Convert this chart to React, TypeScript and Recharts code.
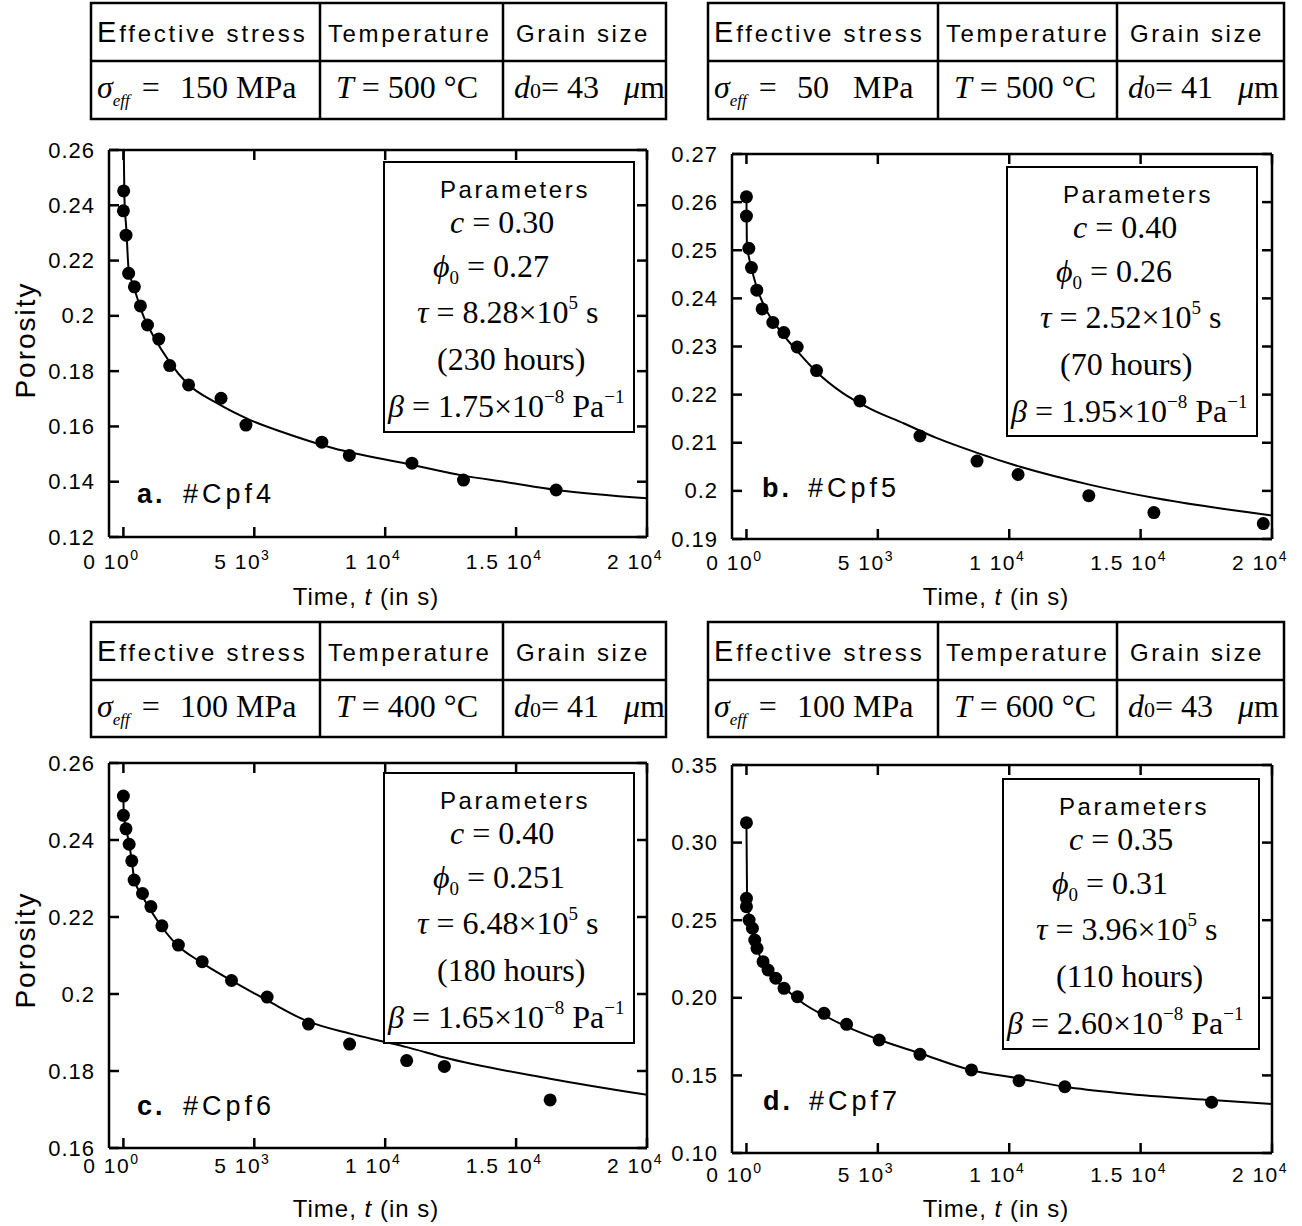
import React from "react";
import { ComposedChart, Line, Scatter, XAxis, YAxis } from "recharts";

const SANS = '"Liberation Sans", Arial, Helvetica, sans-serif';
const SERIF = '"Liberation Serif", "Times New Roman", serif';

// ---- shared x axis ----
const xTicks = [0, 5000, 10000, 15000, 20000];
const xTickMantissa = ["0", "5", "1", "1.5", "2"];
const xTickExponent = ["0", "3", "4", "4", "4"];
const xDomain = [-550, 20000];

// ---- a. #Cpf4 ----
const aTime = [10, 0, 100, 200, 420, 650, 920, 1350, 1770, 2490, 3730, 4680, 7580, 8630, 11020, 12990, 16530];
const aPorosity = [0.2452, 0.238, 0.2292, 0.2154, 0.2105, 0.2036, 0.1967, 0.1916, 0.182, 0.175, 0.1702, 0.1605, 0.1543, 0.1495, 0.1467, 0.1406, 0.137];
const aFitTime = [0, 38, 115, 202, 393, 775, 1157, 1794, 2431, 3576, 4847, 6118, 8027, 10825, 12985, 14641, 16550, 20000];
const aFitPorosity = [0.27, 0.243, 0.231, 0.2166, 0.2106, 0.1997, 0.1925, 0.1829, 0.1756, 0.1684, 0.1623, 0.1578, 0.1521, 0.1465, 0.1422, 0.1398, 0.137, 0.134];
const aYTicks = [0.12, 0.14, 0.16, 0.18, 0.2, 0.22, 0.24, 0.26];
const aYLabels = ["0.12", "0.14", "0.16", "0.18", "0.2", "0.22", "0.24", "0.26"];

// ---- b. #Cpf5 ----
const bTime = [0, 0, 90, 190, 394, 597, 1003, 1422, 1930, 2667, 4317, 6603, 8774, 10337, 13029, 15505, 19669];
const bPorosity = [0.2611, 0.2571, 0.2504, 0.2464, 0.2417, 0.2378, 0.235, 0.2329, 0.2299, 0.225, 0.2187, 0.2114, 0.2062, 0.2034, 0.199, 0.1955, 0.1932];
const bFitTime = [0, 15, 180, 430, 750, 1260, 1890, 2650, 3670, 4700, 6000, 7230, 8780, 10420, 13130, 15650, 20000];
const bFitPorosity = [0.261, 0.2515, 0.2466, 0.2417, 0.2376, 0.2334, 0.2293, 0.2248, 0.2203, 0.2171, 0.214, 0.211, 0.2079, 0.205, 0.2012, 0.1984, 0.1949];
const bYTicks = [0.19, 0.2, 0.21, 0.22, 0.23, 0.24, 0.25, 0.26, 0.27];
const bYLabels = ["0.19", "0.2", "0.21", "0.22", "0.23", "0.24", "0.25", "0.26", "0.27"];

// ---- c. #Cpf6 ----
const cTime = [0, 0, 100, 220, 320, 410, 730, 1050, 1470, 2100, 3010, 4130, 5490, 7070, 8640, 10820, 12260, 16300];
const cPorosity = [0.2514, 0.2464, 0.2429, 0.2389, 0.2346, 0.2296, 0.2261, 0.2227, 0.2177, 0.2127, 0.2084, 0.2035, 0.1992, 0.1922, 0.187, 0.1827, 0.1812, 0.1725];
const cFitTime = [0, 15, 100, 220, 320, 410, 760, 1276, 2039, 2929, 4201, 5477, 7004, 8658, 9956, 10824, 12260, 16295, 20000];
const cFitPorosity = [0.2513, 0.2465, 0.243, 0.239, 0.2346, 0.23, 0.225, 0.2193, 0.2128, 0.2084, 0.2032, 0.1984, 0.193, 0.1897, 0.1876, 0.1862, 0.1835, 0.178, 0.1738];
const cYTicks = [0.16, 0.18, 0.2, 0.22, 0.24, 0.26];
const cYLabels = ["0.16", "0.18", "0.2", "0.22", "0.24", "0.26"];

// ---- d. #Cpf7 ----
const dTime = [0, 0, 0, 100, 228, 316, 403, 632, 822, 1115, 1431, 1941, 2954, 3810, 5051, 6604, 8563, 10374, 12116, 17702];
const dPorosity = [0.3128, 0.2641, 0.2587, 0.2501, 0.2448, 0.2372, 0.2319, 0.2233, 0.2179, 0.2126, 0.2061, 0.2007, 0.19, 0.1829, 0.1728, 0.1636, 0.1535, 0.1466, 0.1427, 0.1327];
const dFitTime = [0, 23, 126, 381, 761, 1393, 2155, 3046, 3807, 5075, 6598, 8501, 10378, 12118, 14337, 17702, 20000];
const dFitPorosity = [0.3124, 0.2651, 0.2501, 0.2329, 0.2179, 0.2071, 0.1965, 0.1878, 0.1814, 0.1728, 0.1643, 0.1537, 0.148, 0.1427, 0.1384, 0.1341, 0.1315];
const dYTicks = [0.1, 0.15, 0.2, 0.25, 0.3, 0.35];
const dYLabels = ["0.10", "0.15", "0.20", "0.25", "0.30", "0.35"];

// ---- texts ----
const panelLetters = ["a.", "b.", "c.", "d."];
const sampleIds = ["#Cpf4", "#Cpf5", "#Cpf6", "#Cpf7"];
const stressMPa = ["150", "50", "100", "100"];
const temperatureC = ["500", "500", "400", "600"];
const grainSizeUm = ["43", "41", "41", "43"];
const paramC = ["0.30", "0.40", "0.40", "0.35"];
const paramPhi0 = ["0.27", "0.26", "0.251", "0.31"];
const paramTau = ["8.28", "2.52", "6.48", "3.96"];
const paramHours = ["230", "70", "180", "110"];
const paramBeta = ["1.75", "1.95", "1.65", "2.60"];

const series = [
  { time: aTime, poro: aPorosity, fitT: aFitTime, fitP: aFitPorosity, yTicks: aYTicks, yLabels: aYLabels },
  { time: bTime, poro: bPorosity, fitT: bFitTime, fitP: bFitPorosity, yTicks: bYTicks, yLabels: bYLabels },
  { time: cTime, poro: cPorosity, fitT: cFitTime, fitP: cFitPorosity, yTicks: cYTicks, yLabels: cYLabels },
  { time: dTime, poro: dPorosity, fitT: dFitTime, fitP: dFitPorosity, yTicks: dYTicks, yLabels: dYLabels },
];

// layout (page pixel positions)
const layouts = [
  { plotX: 109, plotY: 150, plotW: 538, plotH: 387, tickDy: 32, tableX: 91, tableY: 3, tableR: 666, tableB: 119, rowY: 61, col1: 320, col2: 503, boxX: 384, boxY: 162, boxW: 250, boxH: 270, labelX: 137, labelY: 503, xLabelX: 366, xLabelY: 605, yLabelY: 340 },
  { plotX: 732, plotY: 154, plotW: 540, plotH: 385, tickDy: 31, tableX: 708, tableY: 3, tableR: 1284, tableB: 119, rowY: 61, col1: 938, col2: 1117, boxX: 1007, boxY: 167, boxW: 250, boxH: 269, labelX: 762, labelY: 497, xLabelX: 996, xLabelY: 605, yLabelY: 0 },
  { plotX: 109, plotY: 763, plotW: 538, plotH: 385, tickDy: 25, tableX: 91, tableY: 622, tableR: 666, tableB: 737, rowY: 680, col1: 320, col2: 503, boxX: 384, boxY: 773, boxW: 250, boxH: 270, labelX: 137, labelY: 1115, xLabelX: 366, xLabelY: 1217, yLabelY: 950 },
  { plotX: 732, plotY: 765, plotW: 540, plotH: 388, tickDy: 29, tableX: 708, tableY: 622, tableR: 1284, tableB: 737, rowY: 680, col1: 938, col2: 1117, boxX: 1003, boxY: 779, boxW: 256, boxH: 270, labelX: 763, labelY: 1110, xLabelX: 996, xLabelY: 1217, yLabelY: 0 },
];

const TICK_LEN = 10;
const AXIS_W = 2.5;

const XTick = (props: any) => {
  const { x, y, payload, labelDy } = props;
  const i = xTicks.indexOf(payload.value);
  if (i < 0) return null;
  return (
    <g>
      <line x1={x} x2={x} y1={y} y2={y - TICK_LEN} stroke="#000" strokeWidth={AXIS_W} />
      <text x={x - 12} y={y + labelDy} textAnchor="middle" fontFamily={SANS} fontSize={21} letterSpacing={1.5} fill="#000">
        {xTickMantissa[i]} 10
        <tspan fontSize={14} dy={-9}>{xTickExponent[i]}</tspan>
      </text>
    </g>
  );
};

const TopTick = (props: any) => {
  const { x, y } = props;
  return <line x1={x} x2={x} y1={y} y2={y + TICK_LEN} stroke="#000" strokeWidth={AXIS_W} />;
};

const RightTick = (props: any) => {
  const { x, y } = props;
  return <line x1={x} x2={x - TICK_LEN} y1={y} y2={y} stroke="#000" strokeWidth={AXIS_W} />;
};

const YTick = (props: any) => {
  const { x, y, payload, tickValues, tickLabels } = props;
  const i = tickValues.findIndex((v: number) => Math.abs(v - payload.value) < 1e-9);
  if (i < 0) return null;
  return (
    <g>
      <line x1={x} x2={x + TICK_LEN} y1={y} y2={y} stroke="#000" strokeWidth={AXIS_W} />
      <text x={x - 14} y={y} dy={7.5} textAnchor="end" fontFamily={SANS} fontSize={22} letterSpacing={1} fill="#000">
        {tickLabels[i]}
      </text>
    </g>
  );
};

const Dot = (props: any) => <circle cx={props.cx} cy={props.cy} r={6.5} fill="#000" />;

function Panel({ idx }: { idx: number }) {
  const L = layouts[idx];
  const S = series[idx];
  const yAxisW = 100;
  const mTop = 20;
  const mRight = 19;
  const xAxisH = 60;
  const width = yAxisW + L.plotW + mRight + 1;
  const height = mTop + 1 + L.plotH + xAxisH;
  const pts = S.time.map((t, k) => ({ t, p: S.poro[k] }));
  const fit = S.fitT.map((t, k) => ({ t, p: S.fitP[k] }));
  const yDomain = [S.yTicks[0], S.yTicks[S.yTicks.length - 1]];
  return (
    <div style={{ position: "absolute", left: L.plotX - yAxisW, top: L.plotY - mTop - 1 }}>
      <ComposedChart width={width} height={height} margin={{ top: mTop, right: mRight, bottom: 0, left: 0 }}>
        <XAxis
          xAxisId="b"
          type="number"
          dataKey="t"
          domain={xDomain}
          ticks={xTicks}
          interval={0}
          allowDataOverflow
          orientation="bottom"
          height={xAxisH}
          tickSize={0}
          tickMargin={0}
          tickLine={false}
          stroke="#000"
          strokeWidth={AXIS_W}
          tick={<XTick labelDy={L.tickDy} />}
        />
        <XAxis
          xAxisId="top"
          type="number"
          dataKey="t"
          domain={xDomain}
          ticks={xTicks}
          interval={0}
          allowDataOverflow
          orientation="top"
          height={1}
          tickSize={0}
          tickMargin={0}
          tickLine={false}
          stroke="#000"
          strokeWidth={AXIS_W}
          tick={<TopTick />}
        />
        <YAxis
          yAxisId="l"
          type="number"
          dataKey="p"
          domain={yDomain}
          ticks={S.yTicks}
          interval={0}
          allowDataOverflow
          width={yAxisW}
          tickSize={0}
          tickMargin={0}
          tickLine={false}
          stroke="#000"
          strokeWidth={AXIS_W}
          tick={<YTick tickValues={S.yTicks} tickLabels={S.yLabels} />}
        />
        <YAxis
          yAxisId="r"
          orientation="right"
          type="number"
          dataKey="p"
          domain={yDomain}
          ticks={S.yTicks}
          interval={0}
          allowDataOverflow
          width={1}
          tickSize={0}
          tickMargin={0}
          tickLine={false}
          stroke="#000"
          strokeWidth={AXIS_W}
          tick={<RightTick />}
        />
        <Line
          xAxisId="b"
          yAxisId="l"
          data={fit}
          dataKey="p"
          type="monotone"
          stroke="#000"
          strokeWidth={2}
          dot={false}
          activeDot={false}
          isAnimationActive={false}
        />
        <Scatter xAxisId="b" yAxisId="l" data={pts} dataKey="p" shape={<Dot />} isAnimationActive={false} />
      </ComposedChart>
    </div>
  );
}

function InfoTable({ idx }: { idx: number }) {
  const L = layouts[idx];
  const hy = L.tableY + 39;
  const vy = L.tableY + 95;
  const sw = 2.5;
  return (
    <g>
      <rect x={L.tableX} y={L.tableY} width={L.tableR - L.tableX} height={L.tableB - L.tableY} fill="#fff" stroke="#000" strokeWidth={sw} />
      <line x1={L.tableX} x2={L.tableR} y1={L.rowY} y2={L.rowY} stroke="#000" strokeWidth={sw} />
      <line x1={L.col1} x2={L.col1} y1={L.tableY} y2={L.tableB} stroke="#000" strokeWidth={sw} />
      <line x1={L.col2} x2={L.col2} y1={L.tableY} y2={L.tableB} stroke="#000" strokeWidth={sw} />
      <text x={L.tableX + 6} y={hy} fontFamily={SANS} fontSize={24} letterSpacing={2.8} fill="#000">
        <tspan fontSize={29}>E</tspan>ffective stress
      </text>
      <text x={L.col1 + 8} y={hy} fontFamily={SANS} fontSize={24} letterSpacing={2.6} fill="#000">
        Temperature
      </text>
      <text x={L.col2 + 13} y={hy} fontFamily={SANS} fontSize={24} letterSpacing={2.6} fill="#000">
        Grain size
      </text>
      <text x={L.tableX + 6} y={vy} fontFamily={SERIF} fontSize={32} fill="#000">
        <tspan fontStyle="italic">σ</tspan>
        <tspan fontStyle="italic" fontSize={17} dy={8}>eff</tspan>
        <tspan dy={-8} dx={12}>=</tspan>
      </text>
      <text x={L.tableX + 89} y={vy} fontFamily={SERIF} fontSize={32} fill="#000">
        {stressMPa[idx]}
      </text>
      <text x={L.tableX + 145} y={vy} fontFamily={SERIF} fontSize={32} fill="#000">
        MPa
      </text>
      <text x={L.col1 + 16} y={vy} fontFamily={SERIF} fontSize={32} fill="#000">
        <tspan fontStyle="italic">T</tspan> = {temperatureC[idx]} °C
      </text>
      <text x={L.col2 + 11} y={vy} fontFamily={SERIF} fontSize={32} fill="#000">
        <tspan fontStyle="italic">d</tspan>
        <tspan fontSize={22}>0</tspan>
        <tspan>= {grainSizeUm[idx]}</tspan>
      </text>
      <text x={L.col2 + 121} y={vy} fontFamily={SERIF} fontSize={32} fill="#000">
        <tspan fontStyle="italic">μ</tspan>m
      </text>
    </g>
  );
}

function ParamBox({ idx }: { idx: number }) {
  const L = layouts[idx];
  const bx = L.boxX;
  const by = L.boxY;
  const fs = 32;
  return (
    <g>
      <rect x={bx} y={by} width={L.boxW} height={L.boxH} fill="#fff" stroke="#000" strokeWidth={2} />
      <text x={bx + 131} y={by + 36} textAnchor="middle" fontFamily={SANS} fontSize={24} letterSpacing={2.6} fill="#000">
        Parameters
      </text>
      <text x={bx + 66} y={by + 71} fontFamily={SERIF} fontSize={fs} fill="#000">
        <tspan fontStyle="italic">c</tspan> = {paramC[idx]}
      </text>
      <text x={bx + 49} y={by + 115} fontFamily={SERIF} fontSize={fs} fill="#000">
        <tspan fontStyle="italic">ϕ</tspan>
        <tspan fontSize={19} dy={7}>0</tspan>
        <tspan dy={-7}> = {paramPhi0[idx]}</tspan>
      </text>
      <text x={bx + 33} y={by + 161} fontFamily={SERIF} fontSize={fs} fill="#000">
        <tspan fontStyle="italic">τ</tspan> = {paramTau[idx]}×10
        <tspan fontSize={19} dy={-14}>5</tspan>
        <tspan dy={14}> s</tspan>
      </text>
      <text x={bx + 53} y={by + 208} fontFamily={SERIF} fontSize={fs} fill="#000">
        ({paramHours[idx]} hours)
      </text>
      <text x={bx + 4} y={by + 255} fontFamily={SERIF} fontSize={fs} fill="#000">
        <tspan fontStyle="italic">β</tspan> = {paramBeta[idx]}×10
        <tspan fontSize={19} dy={-14}>−8</tspan>
        <tspan dy={14}> Pa</tspan>
        <tspan fontSize={19} dy={-14}>−1</tspan>
      </text>
    </g>
  );
}

function Overlay() {
  return (
    <svg width={1302} height={1226} style={{ position: "absolute", left: 0, top: 0, pointerEvents: "none" }}>
      {layouts.map((L, i) => (
        <g key={i}>
          <InfoTable idx={i} />
          <ParamBox idx={i} />
          <text x={L.labelX} y={L.labelY} fontFamily={SANS} fontSize={27} fontWeight="bold" letterSpacing={3} fill="#000">
            {panelLetters[i]}
          </text>
          <text x={L.labelX + 46} y={L.labelY} fontFamily={SANS} fontSize={27} letterSpacing={4} fill="#000">
            {sampleIds[i]}
          </text>
          <text x={L.xLabelX} y={L.xLabelY} textAnchor="middle" fontFamily={SANS} fontSize={24} letterSpacing={1} fill="#000">
            Time, <tspan fontStyle="italic">t</tspan> (in s)
          </text>
          {L.yLabelY > 0 && (
            <text
              transform={`translate(35, ${L.yLabelY}) rotate(-90)`}
              textAnchor="middle"
              fontFamily={SANS}
              fontSize={28}
              letterSpacing={2}
              fill="#000"
            >
              Porosity
            </text>
          )}
        </g>
      ))}
    </svg>
  );
}

export default function App() {
  return (
    <div style={{ position: "absolute", left: 0, top: 0, width: 1302, height: 1226, background: "#fff" }}>
      {layouts.map((_, i) => (
        <Panel key={i} idx={i} />
      ))}
      <Overlay />
    </div>
  );
}
